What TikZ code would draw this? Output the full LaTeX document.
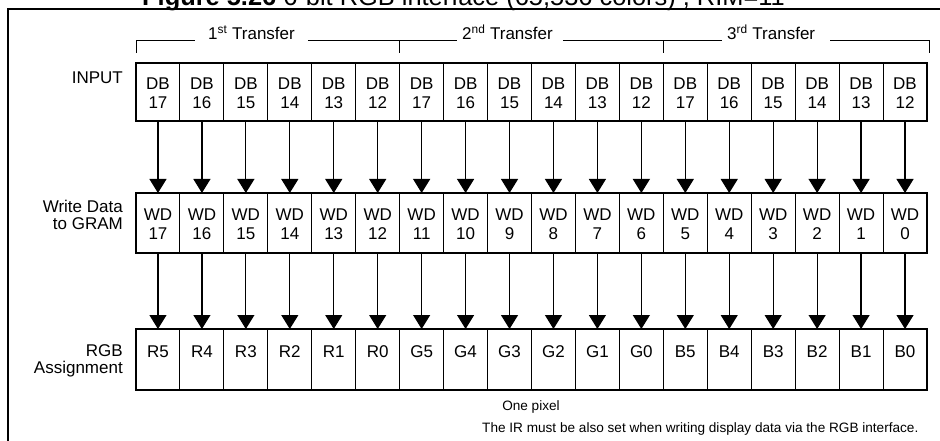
\documentclass[tikz,border=0pt]{standalone}
\usepackage{fontspec}
\setmainfont{Liberation Sans}
\usetikzlibrary{arrows.meta,calc}
\begin{document}
\begin{tikzpicture}[x=1pt,y=-1pt,
  cellbox/.style={draw, line width=1.1pt, minimum width=43.94pt, inner sep=0pt, outer sep=0pt},
  celltxt/.style={font=\fontsize{17}{19}\selectfont, align=center, inner sep=0pt},
  rowlab/.style={font=\fontsize{17}{17}\selectfont, align=right, inner sep=0pt, anchor=north east},
  tlab/.style={font=\fontsize{17}{17}\selectfont, inner sep=0pt, anchor=base west},
  smalltxt/.style={font=\fontsize{13.6}{14}\selectfont, inner sep=0pt},
  arr/.style={line width=1.2pt, -{Triangle[length=14pt,width=17pt]}},
  brk/.style={line width=1pt},
  frame/.style={line width=2.2pt}]
\useasboundingbox (0,0) rectangle (940,441);
% frame and title
\coordinate (fa) at (8.3,9);
\coordinate (fb) at (940,9);
\coordinate (fc) at (8.3,441);
\draw[frame] (fc) -- (fa) -- (fb);
\node[anchor=base west, inner sep=0pt, font=\fontsize{25.4}{26}\selectfont] (title) at (142,5.5)
  {\textbf{Figure 5.26} 6-bit RGB interface (65,536 colors) , RIM=11};
% transfer brackets
\node[tlab] (t1) at (208,39.5) {1\textsuperscript{st} Transfer};
\node[tlab] (t2) at (462,39.5) {2\textsuperscript{nd} Transfer};
\node[tlab] (t3) at (727,39.5) {3\textsuperscript{rd} Transfer};
\coordinate (k0) at (136,40.5);
\coordinate (k1) at (399.7,40.5);
\coordinate (k2) at (663.4,40.5);
\coordinate (k3) at (929,40.5);
\draw[brk] (k0) -- ($(t1.west|-k0)+(-13,0)$);
\draw[brk] ($(t1.east|-k0)+(13,0)$) -- ($(t2.west|-k0)+(-5,0)$);
\draw[brk] ($(t2.east|-k0)+(10,0)$) -- ($(t3.west|-k0)+(-5,0)$);
\draw[brk] ($(t3.east|-k0)+(15,0)$) -- (k3);
\foreach \k in {k0,k1,k2,k3} \draw[brk] (\k) -- ++(0,13);
% row labels
\node[rowlab] (lin) at (123,71.3) {INPUT};
\node[rowlab] (lwd) at (123,199.7) {Write Data\\to GRAM};
\node[rowlab] (lrgb) at (123,344.7) {RGB\\Assignment};
% cells
\foreach \i/\rgb in {0/R5,1/R4,2/R3,3/R2,4/R1,5/R0,6/G5,7/G4,8/G3,9/G2,10/G1,11/G0,12/B5,13/B4,14/B3,15/B2,16/B1,17/B0}{
  \pgfmathsetmacro\cxx{136+43.944*\i+21.972}
  \pgfmathtruncatemacro\dbn{17-mod(\i,6)}
  \pgfmathtruncatemacro\wdn{17-\i}
  \node[cellbox, minimum height=58pt] (d\i) at (\cxx,92) {};
  \node[celltxt] (dt\i) at (\cxx,93) {DB\\\dbn};
  \node[cellbox, minimum height=60pt] (w\i) at (\cxx,223) {};
  \node[celltxt] (wt\i) at (\cxx,224) {WD\\\wdn};
  \node[cellbox, minimum height=61pt] (r\i) at (\cxx,359.5) {};
  \node[celltxt, anchor=base] (rt\i) at (\cxx,357) {\rgb};
  \draw[arr] (d\i.south) -- (w\i.north);
  \draw[arr] (w\i.south) -- (r\i.north);
}
% notes
\node[smalltxt, anchor=base] (op) at (531,410) {One pixel};
\node[smalltxt, anchor=base west] (ir) at (482,432) {The IR must be also set when writing display data via the RGB interface.};
\end{tikzpicture}
\end{document}
